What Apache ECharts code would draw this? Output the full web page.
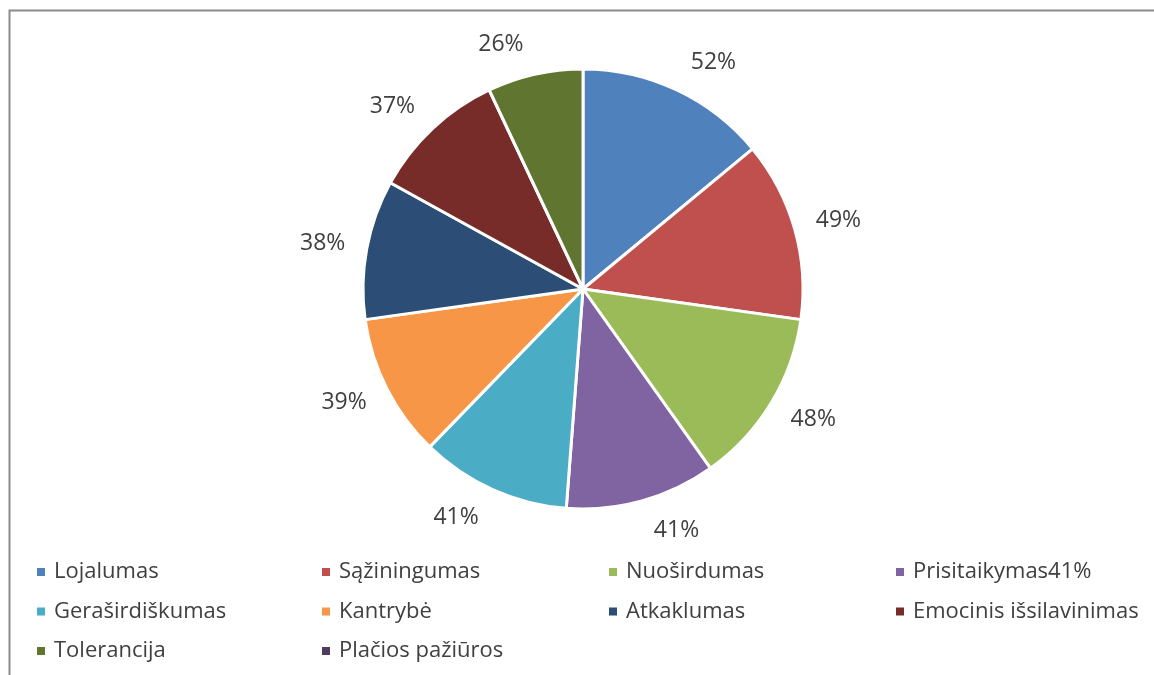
<!DOCTYPE html>
<html>
<head>
<meta charset="utf-8">
<script src="https://cdn.jsdelivr.net/npm/echarts@6/dist/echarts.min.js"></script>
<style>
html,body{margin:0;padding:0;background:#fff;}
#c{width:1154px;height:675px;}
</style>
</head>
<body>
<div id="c"></div>
<script>
const categories = ['Lojalumas','Sąžiningumas','Nuoširdumas','Prisitaikymas41%','Geraširdiškumas','Kantrybė','Atkaklumas','Emocinis išsilavinimas','Tolerancija','Plačios pažiūros'];
const values = [52,49,48,41,41,39,38,37,26,null];
const colors = ['#4F81BD','#C0504D','#9BBB59','#8064A2','#4BACC6','#F79646','#2C4D75','#772C2A','#5F7530','#4D3B62'];
const legendColumns = [
  ['Lojalumas','Geraširdiškumas','Tolerancija'],
  ['Sąžiningumas','Kantrybė','Plačios pažiūros'],
  ['Nuoširdumas','Atkaklumas'],
  ['Prisitaikymas41%','Emocinis išsilavinimas']
];
const legendLeft = [35, 320, 607, 894];

const FONT = '"Open Sans", "Noto Sans", sans-serif';
const CX = 583, CY = 289, R = 220, LINE_LEN = 13;
const chart = echarts.init(document.getElementById('c'), null, {renderer:'canvas'});

const legends = legendColumns.map((col, i) => ({
  orient: 'vertical',
  left: legendLeft[i],
  top: 561,
  padding: 0,
  itemGap: 17.5,
  itemWidth: 10,
  itemHeight: 10,
  icon: 'rect',
  selectedMode: false,
  data: col,
  textStyle: {fontFamily: FONT, fontSize: 22, color: '#404040', lineHeight: 20, padding: [0,0,0,3]}
}));

chart.setOption({
  animation: false,
  color: colors,
  graphic: [{
    type: 'rect',
    left: 7, top: 8,
    shape: {width: 1300, height: 800},
    style: {fill: 'none', stroke: '#8a8a8a', lineWidth: 2},
    silent: true
  }],
  legend: legends,
  series: [{
    type: 'pie',
    center: [CX, CY],
    radius: R,
    startAngle: 90,
    clockwise: true,
    avoidLabelOverlap: false,
    itemStyle: {borderColor: '#fff', borderWidth: 3},
    label: {
      show: true,
      position: 'outside',
      formatter: p => p.value == null || p.value === '-' ? '' : p.value + '%',
      fontFamily: FONT,
      fontSize: 23,
      color: '#404040',
      distanceToLabelLine: 8.5
    },
    labelLine: {show: false, length: LINE_LEN, length2: 0},
    labelLayout: function (p) {
      const r = p.labelRect;
      const sy = (r.y + r.height / 2 - CY) / (R + LINE_LEN);
      return {dy: 17.5 * sy};
    },
    emphasis: {disabled: true},
    data: categories.map((name, i) => ({name: name, value: values[i] == null ? '-' : values[i]}))
  }]
});
</script>
</body>
</html>
